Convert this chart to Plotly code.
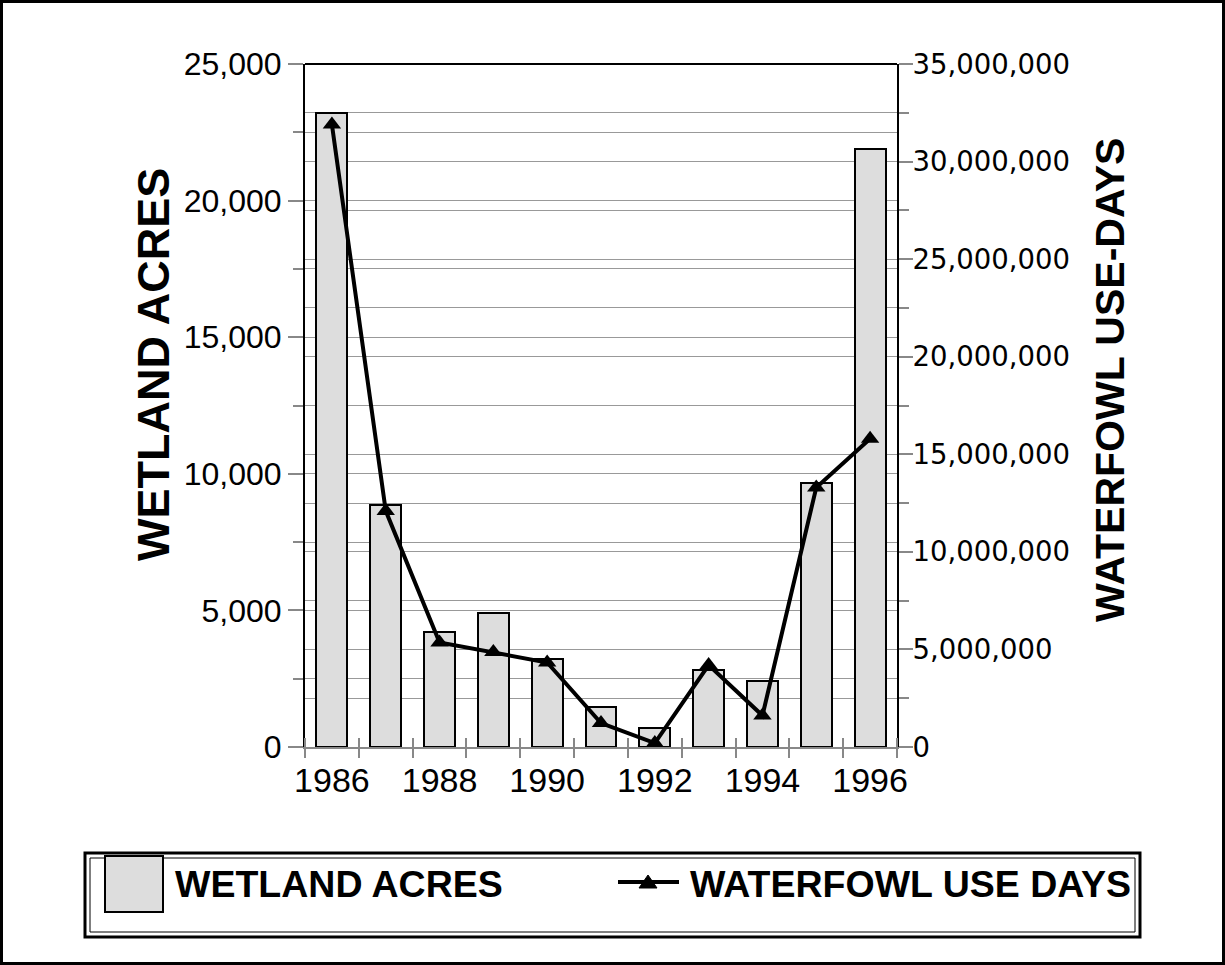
import plotly.graph_objects as go

# ---------------- data ----------------
years = [1986, 1987, 1988, 1989, 1990, 1991, 1992, 1993, 1994, 1995, 1996]
wetland_acres = [23200, 8850, 4220, 4910, 3210, 1450, 700, 2820, 2430, 9650, 21900]
waterfowl_use_days = [31900000, 12100000, 5360000, 4870000, 4330000, 1230000,
                      200000, 4200000, 1610000, 13300000, 15800000]
x_tick_years = [1986, 1988, 1990, 1992, 1994, 1996]
x_tick_labels = ["1986", "1988", "1990", "1992", "1994", "1996"]
left_ticks = [0, 5000, 10000, 15000, 20000, 25000]
right_ticks = [0, 5000000, 10000000, 15000000, 20000000, 25000000, 30000000, 35000000]

# ---------------- layout geometry (pixels) ----------------
W, H = 1225, 965
PL, PR, PT, PB = 305, 897, 64, 747  # plot area


def px_x(px):
    return (px - PL) / (PR - PL)


def px_y(py):
    return (PB - py) / (PB - PT)


boundaries = [y - 0.5 for y in years] + [years[-1] + 0.5]
GRID = "#999999"
TICK = "#888888"
FONT = "Liberation Sans, Arial, sans-serif"

fig = go.Figure()
fig.add_trace(go.Bar(
    x=years, y=wetland_acres, width=0.575, name="WETLAND ACRES",
    marker=dict(color="#dddddd", line=dict(color="black", width=2)),
    yaxis="y", showlegend=False))
fig.add_trace(go.Scatter(
    x=years, y=waterfowl_use_days, name="WATERFOWL USE DAYS",
    mode="lines+markers", line=dict(color="black", width=4),
    marker=dict(symbol="triangle-up", size=16, color="black"),
    yaxis="y2", showlegend=False))
# empty trace to carry the overlay axis used for the inner half of x ticks
fig.add_trace(go.Scatter(x=[], y=[], xaxis="x2", yaxis="y", showlegend=False,
                         hoverinfo="skip"))

fig.update_layout(
    width=W, height=H, autosize=False,
    margin=dict(l=PL, r=W - PR, t=PT, b=H - PB, pad=0),
    paper_bgcolor="white", plot_bgcolor="white",
    font=dict(family=FONT, color="black"),
    xaxis=dict(
        range=[boundaries[0], boundaries[-1]],
        tickmode="array", tickvals=x_tick_years, ticktext=x_tick_labels,
        ticks="", showgrid=False, zeroline=False,
        showline=True, linecolor=TICK, linewidth=1.5,
        tickfont=dict(family=FONT, size=34, color="black"),
        ticklabelstandoff=2,
        minor=dict(tickmode="array", tickvals=boundaries, ticks="outside",
                   ticklen=9, tickcolor=TICK, tickwidth=1.5, showgrid=False),
    ),
    xaxis2=dict(
        overlaying="x", anchor="y", side="bottom",
        range=[boundaries[0], boundaries[-1]],
        showticklabels=False, ticks="", showgrid=False, zeroline=False,
        showline=False,
        minor=dict(tickmode="array", tickvals=boundaries, ticks="inside",
                   ticklen=9, tickcolor=TICK, tickwidth=1.5, showgrid=False),
    ),
    yaxis=dict(
        range=[0, 25000], tickmode="array", tickvals=left_ticks,
        tickformat=",d", ticks="outside", ticklen=15, tickcolor=TICK,
        tickwidth=1.5, showline=True, linecolor="black", linewidth=2,
        showgrid=True, gridcolor=GRID, gridwidth=1.2, zeroline=False,
        tickfont=dict(family=FONT, size=32, color="black"),
        ticklabelstandoff=0,
        minor=dict(dtick=2500, ticks="outside", ticklen=10, tickcolor=TICK,
                   tickwidth=1.5, showgrid=True, gridcolor=GRID, gridwidth=1.2),
    ),
    yaxis2=dict(
        overlaying="y", side="right", anchor="x",
        range=[0, 35000000], tickmode="array", tickvals=right_ticks,
        tickformat=",d", ticks="outside", ticklen=14, tickcolor=TICK,
        tickwidth=1.5, showline=True, linecolor="black", linewidth=2,
        showgrid=True, gridcolor=GRID, gridwidth=1.2, zeroline=False,
        tickfont=dict(family="DejaVu Sans, sans-serif", size=27.5, color="black"),
        ticklabelstandoff=-6,
        minor=dict(dtick=2500000, ticks="outside", ticklen=10, tickcolor=TICK,
                   tickwidth=1.5, showgrid=True, gridcolor=GRID, gridwidth=1.2),
    ),
    bargap=0,
)

shapes = []
# top border of plot area
shapes.append(dict(type="line", xref="paper", yref="paper", x0=0, x1=1, y0=1, y1=1,
                   line=dict(color="black", width=2)))
# outer frame around whole chart
shapes.append(dict(type="rect", xref="paper", yref="paper",
                   x0=px_x(1.5), x1=px_x(W - 1.5), y0=px_y(H - 1.5), y1=px_y(1.5),
                   line=dict(color="black", width=3), fillcolor="rgba(0,0,0,0)"))
# legend frame (double line)
shapes.append(dict(type="rect", xref="paper", yref="paper",
                   x0=px_x(85), x1=px_x(1140), y0=px_y(937), y1=px_y(853),
                   line=dict(color="black", width=3), fillcolor="rgba(0,0,0,0)"))
shapes.append(dict(type="rect", xref="paper", yref="paper",
                   x0=px_x(90), x1=px_x(1135), y0=px_y(932), y1=px_y(858),
                   line=dict(color="black", width=1), fillcolor="rgba(0,0,0,0)"))
# legend swatch for bars
shapes.append(dict(type="rect", xref="paper", yref="paper",
                   x0=px_x(105), x1=px_x(163), y0=px_y(912), y1=px_y(856),
                   line=dict(color="black", width=2), fillcolor="#dddddd"))
# legend symbol for line
shapes.append(dict(type="line", xref="paper", yref="paper",
                   x0=px_x(618), x1=px_x(679), y0=px_y(882), y1=px_y(882),
                   line=dict(color="black", width=4)))
tx, ty = 648, 882
shapes.append(dict(type="path", xref="paper", yref="paper",
                   path=f"M {px_x(tx-9)} {px_y(ty+6)} L {px_x(tx+9)} {px_y(ty+6)} "
                        f"L {px_x(tx)} {px_y(ty-7)} Z",
                   line=dict(color="black", width=1), fillcolor="black"))
fig.update_layout(shapes=shapes)

annotations = [
    dict(text="<b>WETLAND ACRES</b>", xref="paper", yref="paper",
         x=px_x(153), y=px_y(365), textangle=-90, showarrow=False,
         xanchor="center", yanchor="middle",
         font=dict(family=FONT, size=45, color="black")),
    dict(text="<b>WATERFOWL USE-DAYS</b>", xref="paper", yref="paper",
         x=px_x(1110), y=px_y(380), textangle=-90, showarrow=False,
         xanchor="center", yanchor="middle",
         font=dict(family=FONT, size=41, color="black")),
    dict(text="<b>WETLAND ACRES</b>", xref="paper", yref="paper",
         x=px_x(173), y=px_y(884), showarrow=False,
         xanchor="left", yanchor="middle",
         font=dict(family=FONT, size=37.5, color="black")),
    dict(text="<b>WATERFOWL USE DAYS</b>", xref="paper", yref="paper",
         x=px_x(688), y=px_y(884), showarrow=False,
         xanchor="left", yanchor="middle",
         font=dict(family=FONT, size=37.5, color="black")),
]
fig.update_layout(annotations=annotations)

fig.write_html("out.html",
               config={"displayModeBar": False},
               post_script="document.body.style.margin='0';document.body.style.padding='0';")
